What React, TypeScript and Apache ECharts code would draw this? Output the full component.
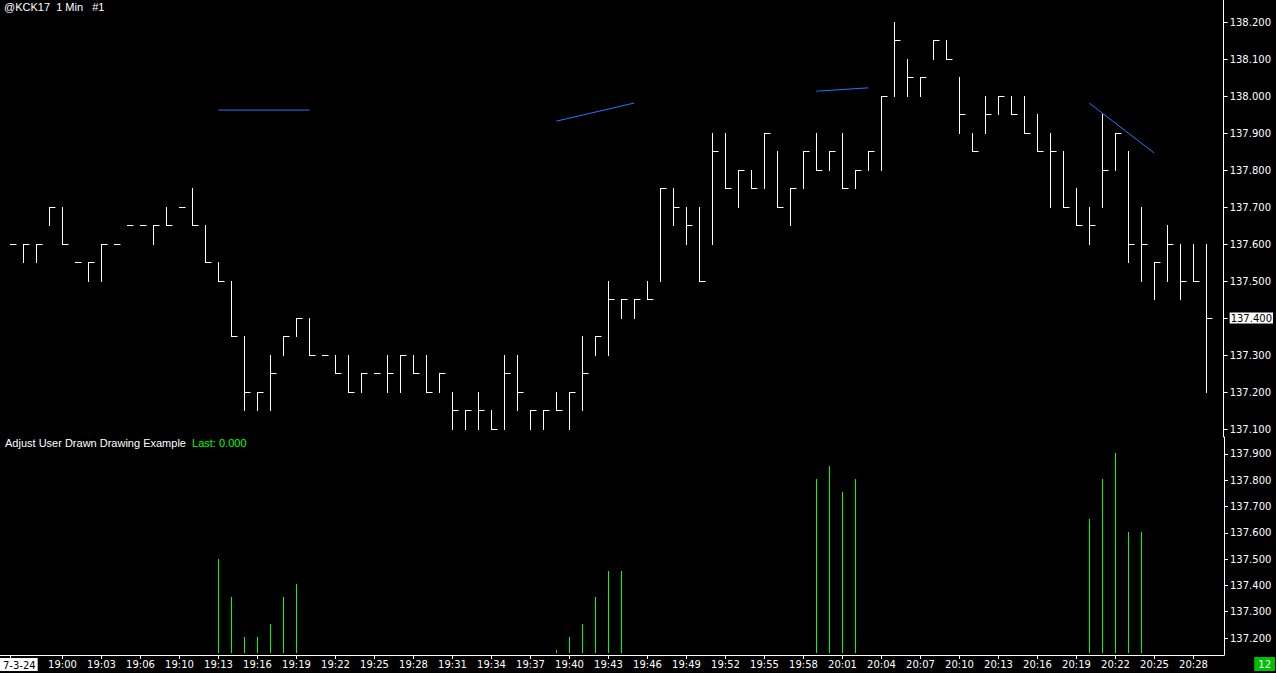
import React, { useEffect, useRef } from "react";
import * as echarts from "echarts";

// ---- data ----
const dateLabel = "7-3-24";
const times = [
  "18:56","18:57","18:58","18:59","19:00","19:01","19:02","19:03","19:04","19:05","19:06",
  "19:08","19:09",
  "19:10","19:11","19:12","19:13","19:14","19:15","19:16","19:17","19:18","19:19",
  "19:20","19:21","19:22","19:23","19:24","19:25","19:26","19:27","19:28","19:29",
  "19:30","19:31","19:32","19:33","19:34","19:35","19:36","19:37","19:38","19:39",
  "19:40","19:41","19:42","19:43","19:44","19:45","19:46","19:47","19:48","19:49",
  "19:50","19:51","19:52","19:53","19:54","19:55","19:56","19:57","19:58","19:59",
  "20:00","20:01","20:02","20:03","20:04","20:05","20:06","20:07","20:08","20:09",
  "20:10","20:11","20:12","20:13","20:14","20:15","20:16","20:17","20:18","20:19",
  "20:20","20:21","20:22","20:23","20:24","20:25","20:26","20:27","20:28","20:29",
];
const tickIdx = [0,4,7,10,13,16,19,22,25,28,31,34,37,40,43,46,49,52,55,58,61,64,67,70,73,76,79,82,85,88,91];

const highs = [
  137.60,137.60,137.60,137.70,137.70,137.55,137.55,137.60,137.60,137.65,
  137.65,137.65,137.70,137.70,137.75,137.65,137.55,137.50,137.35,137.20,
  137.30,137.35,137.40,137.40,137.30,137.30,137.30,137.25,137.25,137.30,
  137.30,137.30,137.30,137.25,137.20,137.15,137.20,137.15,137.30,137.30,
  137.15,137.15,137.20,137.20,137.35,137.35,137.50,137.45,137.45,137.50,
  137.75,137.75,137.70,137.70,137.90,137.90,137.80,137.80,137.90,137.85,
  137.75,137.85,137.90,137.85,137.90,137.80,137.85,138.00,138.20,138.10,
  138.05,138.15,138.15,138.05,137.90,138.00,138.00,138.00,138.00,137.95,
  137.90,137.85,137.75,137.70,137.95,137.90,137.85,137.70,137.55,137.65,
  137.60,137.60,137.60,
];
const lows = [
  137.60,137.55,137.55,137.65,137.60,137.55,137.50,137.50,137.60,137.65,
  137.65,137.60,137.65,137.70,137.65,137.55,137.50,137.35,137.15,137.15,
  137.15,137.30,137.35,137.30,137.30,137.25,137.20,137.20,137.25,137.20,
  137.20,137.25,137.20,137.20,137.10,137.10,137.10,137.10,137.10,137.15,
  137.10,137.10,137.15,137.10,137.15,137.30,137.30,137.40,137.40,137.45,
  137.50,137.65,137.60,137.50,137.60,137.75,137.70,137.75,137.75,137.70,
  137.65,137.75,137.80,137.80,137.75,137.75,137.80,137.80,138.00,138.00,
  138.00,138.10,138.10,137.90,137.85,137.90,137.95,137.95,137.90,137.85,
  137.70,137.70,137.65,137.60,137.70,137.80,137.55,137.50,137.45,137.50,
  137.45,137.50,137.20,
];
const closes = [
  137.60,137.60,137.60,137.70,137.60,137.55,137.55,137.60,137.60,137.65,
  137.65,137.65,137.65,137.70,137.65,137.55,137.50,137.35,137.20,137.20,
  137.25,137.35,137.40,137.30,137.30,137.25,137.20,137.25,137.25,137.25,
  137.30,137.25,137.20,137.25,137.15,137.15,137.15,137.10,137.25,137.20,
  137.15,137.15,137.15,137.20,137.25,137.35,137.45,137.45,137.45,137.45,
  137.75,137.70,137.65,137.50,137.85,137.75,137.80,137.75,137.90,137.70,
  137.75,137.85,137.80,137.85,137.75,137.80,137.85,138.00,138.15,138.05,
  138.05,138.15,138.10,137.95,137.85,137.95,138.00,137.95,137.90,137.85,
  137.85,137.70,137.65,137.65,137.80,137.90,137.60,137.60,137.55,137.60,
  137.50,137.50,137.40,
];

// study pane values: [bar index, value]
const studyBars = [16,17,18,19,20,21,22, 42,43,44,45,46,47, 62,63,64,65, 83,84,85,86,87];
const studyValues = [
  137.50,137.356,137.204,137.204,137.253,137.356,137.405,
  137.154,137.204,137.253,137.356,137.455,137.455,
  137.805,137.854,137.755,137.805,
  137.653,137.805,137.904,137.603,137.603,
];
const studyBase = 137.143;

// user drawn lines: [startBar, startPrice, endBar, endPrice]
const drawings = [
  [16, 137.962, 23, 137.962],
  [42, 137.932, 48, 137.981],
  [62, 138.013, 66, 138.022],
  [83, 137.981, 88, 137.846],
];

const priceTicks = [137.1,137.2,137.3,137.4,137.5,137.6,137.7,137.8,137.9,138.0,138.1,138.2];
const studyTicks = [137.2,137.3,137.4,137.5,137.6,137.7,137.8,137.9];

const symbolTitle = "@KCK17  1 Min   #1";
const studyTitle = "Adjust User Drawn Drawing Example";
const studyLast = "Last: 0.000";
const barCountBadge = "12";

// ---- layout constants ----
const W = 1276;
const H = 673;
const AXIS_X = 1224;
const BAR_W = 13;
const X_MIN = -10.5 / BAR_W;
const X_MAX = X_MIN + AXIS_X / BAR_W;
const AX_FONT = "DejaVu Sans";
const TXT_FONT = "Liberation Sans";

export default function App() {
  const ref = useRef<HTMLDivElement>(null);
  useEffect(() => {
    document.body.style.margin = "0";
    document.body.style.background = "#000";
    const chart = echarts.init(ref.current!, null, { renderer: "svg" });
    const lastClose = closes[closes.length - 1];
    const snap = (v: number) => Math.round(v - 0.5) + 0.5;

    const hlcData = highs.map((h, i) => [i, h, lows[i], closes[i]]);
    const studyData = studyBars.map((b, i) => [b, studyValues[i]]);

    const yAxisCommon = {
      type: "value",
      position: "right",
      scale: true,
      axisLine: { show: true, onZero: false, lineStyle: { color: "#ffffff", width: 1 } },
      axisTick: { show: true, length: 4, lineStyle: { color: "#ffffff" } },
      splitLine: { show: false },
    };

    const option: any = {
      animation: false,
      backgroundColor: "#000000",
      title: [
        {
          text: symbolTitle,
          left: 4,
          top: 1,
          padding: 0,
          textStyle: { color: "#ffffff", fontSize: 11, fontWeight: "normal", fontFamily: TXT_FONT },
        },
        {
          text: `{w|${studyTitle}}  {g|${studyLast}}`,
          left: 5,
          top: 437,
          padding: 0,
          textStyle: {
            fontSize: 11,
            fontWeight: "normal",
            fontFamily: TXT_FONT,
            rich: {
              w: { color: "#ffffff", fontSize: 11, fontWeight: "normal", fontFamily: TXT_FONT },
              g: { color: "#00ff00", fontSize: 11, fontWeight: "normal", fontFamily: TXT_FONT },
            },
          },
        },
      ],
      grid: [
        { left: 0, right: W - AXIS_X, top: 0, height: 437 },
        { left: 0, right: W - AXIS_X, top: 437, height: 218 },
      ],
      xAxis: [
        { type: "value", gridIndex: 0, min: X_MIN, max: X_MAX, show: false },
        {
          type: "value",
          gridIndex: 1,
          min: X_MIN,
          max: X_MAX,
          axisLine: { show: true, onZero: false, lineStyle: { color: "#ffffff" } },
          axisTick: { show: true, length: 4, customValues: tickIdx, lineStyle: { color: "#ffffff" } },
          axisLabel: {
            customValues: tickIdx,
            color: "#ffffff",
            fontSize: 10,
            fontFamily: AX_FONT,
            margin: 4,
            formatter: (v: number) => (Math.round(v) === 0 ? "" : times[Math.round(v)]),
          },
          splitLine: { show: false },
        },
      ],
      yAxis: [
        {
          ...yAxisCommon,
          gridIndex: 0,
          min: 137.4 - 119 / 370,
          max: 137.4 + 318 / 370,
          axisTick: { ...yAxisCommon.axisTick, customValues: priceTicks },
          axisLabel: {
            customValues: priceTicks,
            color: "#ffffff",
            fontSize: 10,
            fontFamily: AX_FONT,
            margin: 6,
            formatter: (v: number) =>
              Math.abs(v - lastClose) < 1e-6 ? `{hl|${v.toFixed(3)}}` : v.toFixed(3),
            rich: {
              hl: {
                backgroundColor: "#ffffff",
                color: "#000000",
                fontSize: 10,
                fontFamily: AX_FONT,
                padding: [1, 1, 0, 1],
              },
            },
          },
        },
        {
          ...yAxisCommon,
          gridIndex: 1,
          min: 137.2 - 17 / 262.9,
          max: 137.9 + 17 / 262.9,
          axisTick: { ...yAxisCommon.axisTick, customValues: studyTicks },
          axisLabel: {
            customValues: studyTicks,
            color: "#ffffff",
            fontSize: 10,
            fontFamily: AX_FONT,
            margin: 6,
            formatter: (v: number) => v.toFixed(3),
          },
        },
      ],
      series: [
        {
          type: "custom",
          xAxisIndex: 0,
          yAxisIndex: 0,
          data: hlcData,
          encode: { x: 0, y: [1, 2, 3] },
          renderItem: (params: any, api: any) => {
            const x = api.value(0);
            const ph = api.coord([x, api.value(1)]);
            const pl = api.coord([x, api.value(2)]);
            const pc = api.coord([x, api.value(3)]);
            const cx = snap(ph[0]);
            const yh = snap(ph[1]);
            const yl = snap(pl[1]);
            const yc = snap(pc[1]);
            const children: any[] = [];
            if (Math.abs(yl - yh) > 0.5) {
              children.push({
                type: "line",
                shape: { x1: cx, y1: yh - 0.5, x2: cx, y2: yl + 0.5 },
                style: { stroke: "#ffffff", lineWidth: 1 },
              });
            }
            children.push({
              type: "line",
              shape: { x1: cx - 0.5, y1: yc, x2: cx + 6, y2: yc },
              style: { stroke: "#ffffff", lineWidth: 1 },
            });
            return { type: "group", children };
          },
        },
        ...drawings.map((d) => ({
          type: "line",
          xAxisIndex: 0,
          yAxisIndex: 0,
          data: [
            [d[0], d[1]],
            [d[2], d[3]],
          ],
          symbol: "none",
          lineStyle: { color: "#1c7aff", width: 1 },
        })),
        {
          type: "custom",
          xAxisIndex: 1,
          yAxisIndex: 1,
          data: studyData,
          encode: { x: 0, y: 1 },
          renderItem: (params: any, api: any) => {
            const x = api.value(0);
            const p = api.coord([x, api.value(1)]);
            const b = api.coord([x, studyBase]);
            const cx = snap(p[0]);
            return {
              type: "line",
              shape: { x1: cx, y1: Math.round(p[1]), x2: cx, y2: Math.round(b[1]) },
              style: { stroke: "#00ff00", lineWidth: 1 },
            };
          },
        },
      ],
      graphic: [
        {
          type: "text",
          left: 0,
          top: 658,
          style: {
            text: dateLabel,
            fill: "#000000",
            backgroundColor: "#ffffff",
            padding: [2, 2, 1, 3],
            font: `10px "${AX_FONT}"`,
          },
        },
        {
          type: "text",
          right: 1,
          top: 657,
          style: {
            text: barCountBadge,
            fill: "#ffffff",
            backgroundColor: "#00c000",
            padding: [2, 4, 2, 4],
            font: `10px "${AX_FONT}"`,
          },
        },
      ],
    };
    chart.setOption(option);
    return () => chart.dispose();
  }, []);
  return <div ref={ref} style={{ width: W, height: H, background: "#000" }} />;
}
